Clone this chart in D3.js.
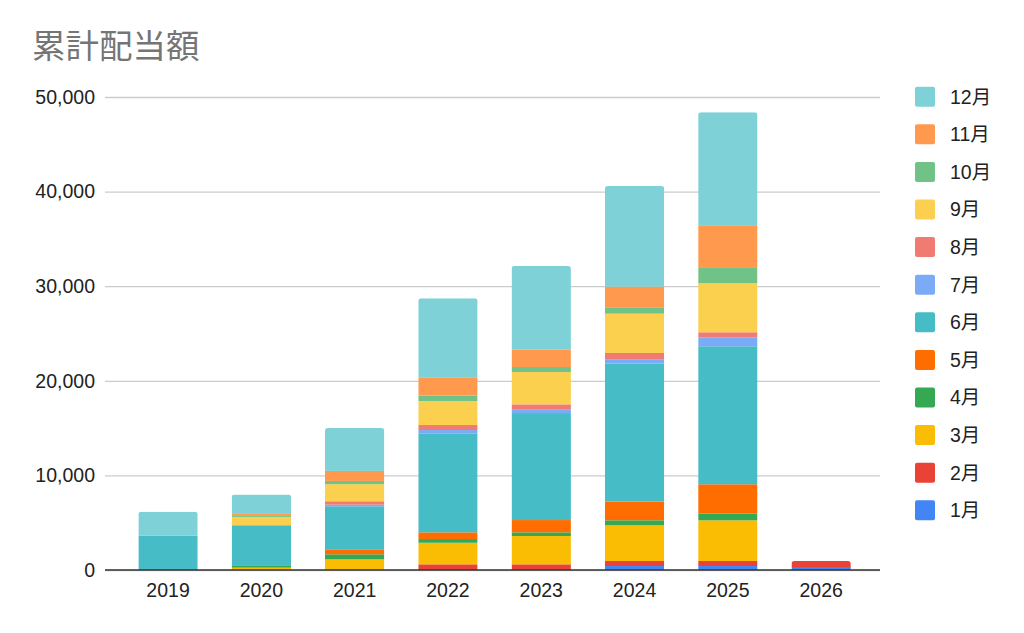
<!DOCTYPE html>
<html>
<head>
<meta charset="utf-8">
<script src="https://cdn.jsdelivr.net/npm/d3@7"></script>
<style>
  body { margin: 0; background: #fff; }
  text { font-family: "Liberation Sans", Arial, "Noto Sans CJK JP", sans-serif; }
</style>
</head>
<body>
<svg id="chart" width="1024" height="633"></svg>
<script>
const years = ['2019', '2020', '2021', '2022', '2023', '2024', '2025', '2026'];
const months = ['1月', '2月', '3月', '4月', '5月', '6月', '7月', '8月', '9月', '10月', '11月', '12月'];
const monthColors = ['#4285F4', '#EA4335', '#FBBC04', '#34A853', '#FF6D01', '#46BDC6',
                     '#7BAAF7', '#F07B72', '#FCD04F', '#71C287', '#FF994D', '#7ED1D7'];
const yTicks = [0, 10000, 20000, 30000, 40000, 50000];

// values per month, one entry per year (2019..2026)
const m01 = [0, 0, 0, 0, 0, 420, 420, 220];
const m02 = [0, 0, 0, 600, 600, 530, 530, 730];
const m03 = [0, 250, 1130, 2280, 2990, 3775, 4300, 0];
const m04 = [0, 180, 530, 390, 390, 530, 700, 0];
const m05 = [0, 0, 530, 710, 1300, 1965, 3110, 0];
const m06 = [3620, 4300, 4545, 10465, 11310, 14590, 14590, 0];
const m07 = [0, 0, 170, 350, 350, 420, 910, 0];
const m08 = [0, 0, 360, 530, 570, 710, 570, 0];
const m09 = [0, 880, 1800, 2540, 3415, 4155, 5180, 0];
const m10 = [0, 180, 350, 560, 530, 675, 1620, 0];
const m11 = [0, 210, 1060, 1945, 1830, 2180, 4515, 0];
const m12 = [2540, 1970, 4545, 8350, 8850, 10645, 11945, 0];
const series = [m01, m02, m03, m04, m05, m06, m07, m08, m09, m10, m11, m12];

const table = years.map((y, i) => {
    const row = { year: y };
    months.forEach((m, j) => row[m] = series[j][i]);
    return row;
});

const svg = d3.select('#chart');
const plotLeft = 105, plotRight = 880, plotTop = 97, plotBottom = 570;
const labelSize = 19.5;

const xScale = d3.scaleBand().domain(years).range([121.4, 867.8]).paddingInner(0.364).paddingOuter(0.182);
const yScale = d3.scaleLinear().domain([0, 50000]).range([plotBottom, plotTop]);
const colorScale = d3.scaleOrdinal().domain(months).range(monthColors);

// title
svg.append('text')
    .text('累計配当額')
    .attr('x', 32)
    .attr('y', 58)
    .attr('font-size', 33.5)
    .attr('fill', '#757575')
    .attr('font-family', '"Noto Sans CJK JP", sans-serif')

// grid
svg.append('g').attr('class', 'y axis')
    .attr('transform', 'translate(' + plotLeft + ',0)')
    .call(d3.axisLeft(yScale).tickValues(yTicks).tickSizeInner(-(plotRight - plotLeft)).tickSizeOuter(0).tickFormat(d3.format(',')))

svg.select('.y.axis').select('path').remove()
svg.selectAll('.y.axis .tick line').attr('stroke', '#cccccc').attr('stroke-width', 1.3)
svg.selectAll('.y.axis .tick text')
    .attr('x', -10)
    .attr('font-size', labelSize)
    .attr('fill', '#222')
    .attr('font-family', '"Liberation Sans", Arial, sans-serif')

// bars
const stack = d3.stack().keys(months)(table);
const defs = svg.append('defs');
years.forEach((y, i) => {
    const total = d3.sum(series, s => s[i]);
    defs.append('clipPath').attr('id', 'clip' + i)
        .append('rect')
        .attr('x', xScale(y))
        .attr('y', yScale(total))
        .attr('width', xScale.bandwidth())
        .attr('height', yScale(0) - yScale(total) + 6)
        .attr('rx', 3)
});

const bars = svg.append('g').attr('class', 'bars');
years.forEach((y, i) => {
    const g = bars.append('g').attr('clip-path', 'url(#clip' + i + ')');
    stack.forEach(layer => {
        const d = layer[i];
        if (d[1] - d[0] <= 0) return;
        g.append('rect')
            .attr('x', xScale(y))
            .attr('y', yScale(d[1]))
            .attr('width', xScale.bandwidth())
            .attr('height', yScale(d[0]) - yScale(d[1]))
            .attr('fill', colorScale(layer.key))
    });
});

// baseline
svg.append('line')
    .attr('x1', plotLeft).attr('x2', plotRight)
    .attr('y1', plotBottom).attr('y2', plotBottom)
    .attr('stroke', '#333').attr('stroke-width', 1.5)

// x axis labels
svg.append('g').attr('class', 'x axis')
    .attr('transform', 'translate(0,' + plotBottom + ')')
    .call(d3.axisBottom(xScale).tickSize(0).tickPadding(13))

svg.select('.x.axis').select('path').remove()
svg.selectAll('.x.axis .tick text')
    .attr('font-size', labelSize)
    .attr('fill', '#222')
    .attr('font-family', '"Liberation Sans", Arial, sans-serif')

// legend
const legendItems = months.slice().reverse();
const legend = svg.append('g').attr('class', 'legend')
    .selectAll('g')
    .data(legendItems)
    .enter()
    .append('g')
    .attr('transform', (d, i) => 'translate(915,' + (96.7 + i * 37.6) + ')')

legend.append('rect')
    .attr('x', 0).attr('y', -10)
    .attr('width', 20).attr('height', 20)
    .attr('rx', 2)
    .attr('fill', d => colorScale(d))

legend.append('text')
    .text(d => d)
    .attr('x', 35)
    .attr('dy', '0.35em')
    .attr('font-size', labelSize)
    .attr('fill', '#222')
</script>
</body>
</html>
